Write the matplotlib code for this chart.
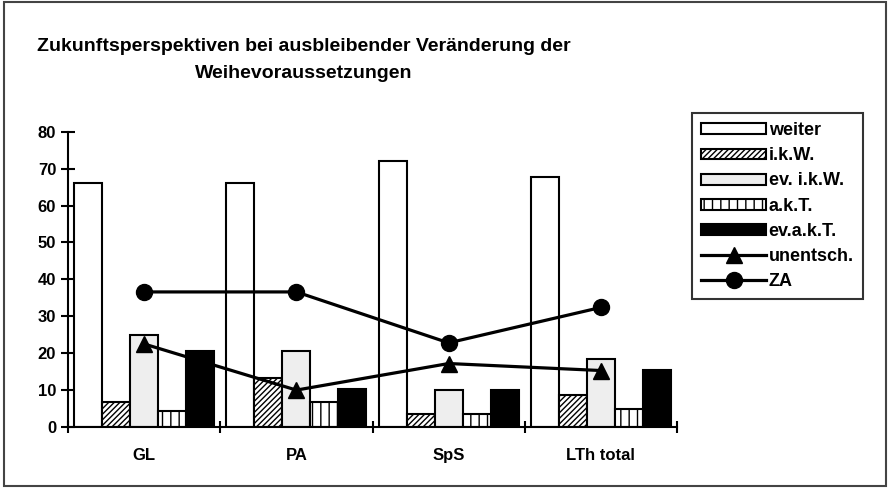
import numpy as np
import matplotlib.pyplot as plt
from matplotlib.patches import Patch, Rectangle
from matplotlib.lines import Line2D

plt.rcParams['font.family'] = ['Liberation Sans', 'DejaVu Sans']
plt.rcParams['font.weight'] = 'bold'
plt.rcParams['hatch.linewidth'] = 1.0

categories = ['GL', 'PA', 'SpS', 'LTh total']
weiter = [66, 66, 72.2, 67.8]
ikw = [6.8, 13.3, 3.6, 8.8]
ev_ikw = [25, 20.5, 10.1, 18.4]
akt = [4.3, 6.8, 3.6, 4.9]
ev_akt = [20.6, 10.2, 10.1, 15.4]
unentsch = [22.5, 10, 17.2, 15.3]
za = [36.6, 36.6, 22.8, 32.4]

bar_names = ['weiter', 'i.k.W.', 'ev. i.k.W.', 'a.k.T.', 'ev.a.k.T.']
bar_data = [weiter, ikw, ev_ikw, akt, ev_akt]
bar_fill = ['white', 'white', '#eeeeee', 'white', 'black']
bar_hatch = [None, '//////', None, '||', None]

fig = plt.figure(figsize=(8.9, 4.88), dpi=100)
ax = fig.add_axes([0.0764, 0.125, 0.6843, 0.605])

x = np.arange(len(categories))
w = 0.184
for i, (vals, fc, h) in enumerate(zip(bar_data, bar_fill, bar_hatch)):
    ax.bar(x + (i - 2) * w, vals, width=w, color=fc, edgecolor='black',
           linewidth=1.5, hatch=h, zorder=2)

ax.plot(x, unentsch, color='black', lw=2.3, marker='^', ms=12, zorder=3)
ax.plot(x, za, color='black', lw=2.3, marker='o', ms=11.5, zorder=3)

ax.set_xlim(-0.5, len(categories) - 0.5)
ax.set_ylim(0, 80)
ax.set_yticks(range(0, 81, 10))
ax.set_xticks(np.arange(-0.5, len(categories), 1.0))
ax.set_xticklabels([])
ax.set_xticks(x, minor=True)
ax.set_xticklabels(categories, minor=True)
ax.tick_params(axis='x', which='minor', length=0, pad=15, labelsize=12)
ax.tick_params(axis='x', which='major', direction='inout', length=9, width=1.5)
ax.tick_params(axis='y', direction='inout', length=10, width=1.5, labelsize=12)
for s in ['top', 'right']:
    ax.spines[s].set_visible(False)
for s in ['left', 'bottom']:
    ax.spines[s].set_linewidth(1.5)

fig.text(0.341, 0.877, 'Zukunftsperspektiven bei ausbleibender Veränderung der\nWeihevoraussetzungen',
         ha='center', va='center', fontsize=14, fontweight='bold', linespacing=1.8)

handles = [Patch(facecolor=fc, edgecolor='black', hatch=h, linewidth=1.5)
           for fc, h in zip(bar_fill, bar_hatch)]
handles += [Line2D([], [], color='black', lw=2.3, marker='^', ms=12),
            Line2D([], [], color='black', lw=2.3, marker='o', ms=11.5)]
labels = bar_names + ['unentsch.', 'ZA']
leg = fig.legend(handles, labels, loc='upper left', bbox_to_anchor=(0.7775, 0.768),
                 frameon=True, fancybox=False, edgecolor='black', fontsize=13,
                 handlelength=3.6, handleheight=0.55, labelspacing=0.45,
                 handletextpad=0.15, borderpad=0.5, borderaxespad=0)
leg.get_frame().set_linewidth(1.5)

fig.patches.append(Rectangle((0.004, 0.005), 0.992, 0.99, transform=fig.transFigure,
                             fill=False, edgecolor='#444444', linewidth=1.5))

fig.savefig('out.png', dpi=100)
